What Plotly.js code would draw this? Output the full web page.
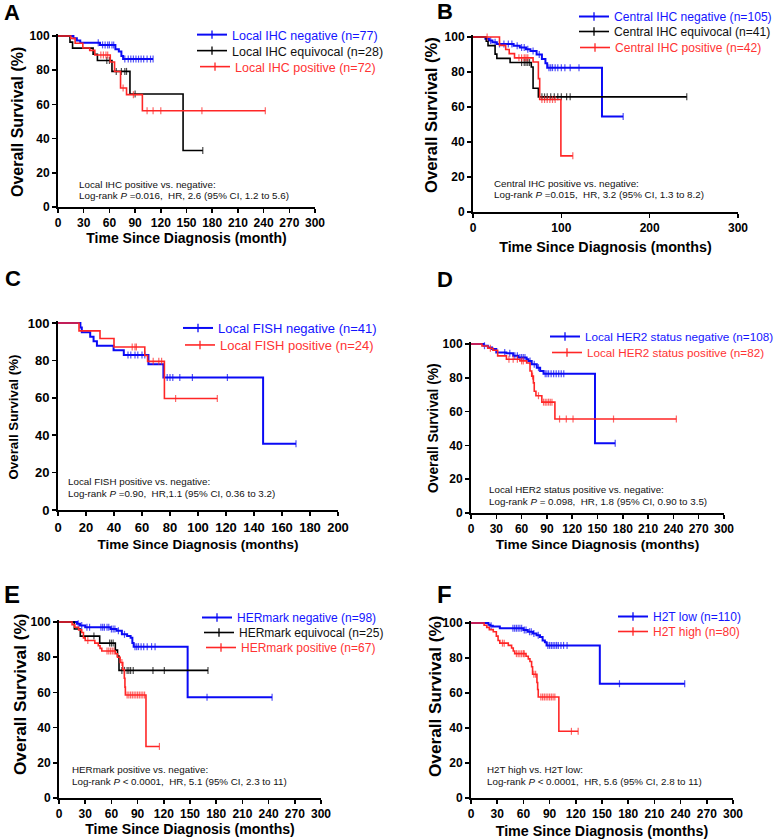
<!DOCTYPE html>
<html><head><meta charset="utf-8">
<script src="https://cdn.plot.ly/plotly-3.0.1.min.js"></script>
<style>body{margin:0;background:#fff}#chart{width:778px;height:840px}</style>
</head><body><div id="chart"></div>
<script>
// ---------- DATA (Kaplan-Meier step values) ----------
// Panel A: Local IHC
const A_neg_t = [0, 18, 22, 26, 49, 67, 71, 74, 76];
const A_neg_s = [100, 98.7, 97.4, 96.1, 94.8, 92.2, 90.9, 88.3, 86.5];
const A_neg_cens = [47, 52, 55, 58, 60, 63, 65, 78, 82, 85, 88, 91, 94, 97, 100, 104, 108, 111];
const A_eq_t = [0, 14, 17, 41, 46, 63, 84, 146];
const A_eq_s = [100, 96.4, 92.9, 89.3, 85.7, 79.3, 66.1, 33.0];
const A_eq_cens = [57, 60, 68, 74, 78, 80, 90, 169];
const A_pos_t = [0, 15, 20, 29, 37, 43, 61, 66, 73, 80, 98.5];
const A_pos_s = [100, 98.6, 95.8, 93.0, 91.6, 88.9, 84.8, 79.2, 69.6, 65.7, 56.3];
const A_pos_cens = [50, 53, 56, 58, 76, 88, 104, 111, 120, 168, 242];
const A_names = ['Local IHC negative (n=77)', 'Local IHC equivocal (n=28)', 'Local IHC positive (n=72)'];

// Panel B: Central IHC
const B_neg_t = [0, 14, 18, 22, 27, 46, 53, 60, 65, 72, 78, 82, 84, 146];
const B_neg_s = [100, 99, 98, 97, 96, 95, 94, 93, 92, 90, 87.5, 85, 82.5, 54.6];
const B_neg_cens = [20, 25, 30, 35, 40, 44, 50, 55, 58, 62, 68, 75, 86, 88, 90, 93, 96, 100, 104, 110, 120, 170];
const B_eq_t = [0, 15, 17, 25, 27, 42, 66, 68, 74];
const B_eq_s = [100, 97.6, 95.1, 90.2, 87.8, 85.4, 82.9, 70.7, 65.8];
const B_eq_cens = [55, 58, 60, 62, 64, 78, 81, 84, 88, 92, 96, 100, 106, 110, 242];
const B_pos_t = [0, 30, 37, 41, 47, 68, 74, 75.5, 99.5];
const B_pos_s = [100, 95.2, 92.9, 90.5, 88.1, 85.7, 76.2, 64.3, 32.1];
const B_pos_cens = [16, 52, 55, 58, 60, 62, 78, 81, 84, 87, 90, 93, 113];
const B_names = ['Central IHC negative (n=105)', 'Central IHC equivocal (n=41)', 'Central IHC positive (n=42)'];

// Panel C: Local FISH
const C_neg_t = [0, 16, 17, 23, 25.4, 27.8, 39.7, 47, 64.6, 75.3, 146.5];
const C_neg_s = [100, 97.6, 95.1, 92.7, 90.2, 87.8, 85.4, 82.9, 78.0, 70.8, 35.4];
const C_neg_cens = [50, 52, 55, 57, 60, 62, 78, 80, 82, 87, 96, 121, 170];
const C_pos_t = [0, 15, 30, 40, 62, 64, 76];
const C_pos_s = [100, 95.8, 91.7, 87.2, 82.6, 79.5, 59.6];
const C_pos_cens = [53, 55, 56, 68, 72, 74, 84, 113.8];
const C_names = ['Local FISH negative (n=41)', 'Local FISH positive (n=24)'];

// Panel D: Local HER2 status
const D_neg_t = [0, 15, 20, 25, 30, 42, 50, 56, 66, 68, 72, 78, 82, 86, 147];
const D_neg_s = [100, 99, 98, 97, 95, 94.5, 93, 92, 91, 90, 88, 86, 84, 82.4, 41.2];
const D_neg_cens = [16, 40, 46, 52, 55, 58, 60, 62, 64, 70, 75, 80, 88, 90, 92, 95, 98, 101, 104, 107, 110, 171];
const D_pos_t = [0, 13, 20, 26, 31.6, 42, 58, 66, 70, 72, 74, 75, 77, 84, 99.5];
const D_pos_s = [100, 98.8, 97.5, 96.3, 93, 91, 90, 88.8, 84, 81, 77, 72, 69.4, 65.6, 55.6];
const D_pos_cens = [23, 45, 50, 55, 60, 62, 73, 80, 86, 88, 90, 92, 94, 96, 105, 113, 121, 169, 243.5];
const D_names = ['Local HER2 status negative (n=108)', 'Local HER2 status positive (n=82)'];

// Panel E: HERmark
const E_neg_t = [0, 20.6, 24, 30, 59, 66, 72, 78, 82, 84, 85.5, 147.3];
const E_neg_s = [100, 99, 98, 97, 96, 95, 93, 92, 91, 88, 86, 57.3];
const E_neg_cens = [22, 26, 32, 35, 48, 50, 52, 55, 57, 60, 62, 64, 68, 75, 87, 89, 91, 94, 97, 101, 106, 110, 169.5, 244];
const E_eq_t = [0, 17.6, 24.4, 46.6, 64.5, 67, 68.7];
const E_eq_s = [100, 96, 92, 88, 84, 80.6, 72.5];
const E_eq_cens = [40, 58, 60, 62, 72, 75, 78, 80, 82, 85, 107.6, 120.6, 170.6];
const E_pos_t = [0, 15, 18, 22.5, 26, 28, 30, 41, 45, 47, 49, 64.5, 67, 70, 73, 74.8, 75.5, 76, 99.6];
const E_pos_s = [100, 98.5, 97, 95.5, 94, 91, 89.5, 88, 86.5, 85, 83.5, 82, 80, 77, 73, 68, 63, 58.5, 29.3];
const E_pos_cens = [33, 55, 57, 59, 61, 63, 72, 78, 80, 82, 84, 86, 88, 90, 92, 94, 96, 98, 115];
const E_names = ['HERmark negative (n=98)', 'HERmark equivocal (n=25)', 'HERmark positive (n=67)'];

// Panel F: H2T
const F_neg_t = [0, 20, 22, 25, 33, 60, 65, 71, 75, 79, 82, 84.6, 86.5, 147.5];
const F_neg_s = [100, 99, 98.5, 98, 97, 96, 95, 94, 93, 92, 90, 89, 87.2, 65.3];
const F_neg_cens = [23, 48, 50, 52, 54, 56, 58, 61, 63, 67, 69, 72, 77, 88, 90, 92, 94, 96, 98, 100, 103, 106, 110, 170, 244.7];
const F_pos_t = [0, 15, 18, 21, 25.5, 29, 31, 33, 42.7, 46.5, 48.4, 50, 63, 65.6, 67.5, 69.4, 70.5, 75.5, 76.3, 77, 100.6];
const F_pos_s = [100, 98.7, 97.5, 96.2, 95, 92.5, 90, 88.5, 87.2, 85.7, 84, 82.5, 81, 79.5, 78, 75, 70.7, 66, 62, 57.7, 38.1];
const F_pos_cens = [36, 38, 52, 54, 56, 58, 60, 61, 72, 74, 80, 82, 84, 86, 88, 90, 92, 94, 96, 115, 122.7];
const F_names = ['H2T low (n=110)', 'H2T high (n=80)'];

// Text
const panelLetters = ['A', 'B', 'C', 'D', 'E', 'F'];
const xTitles = ['Time Since Diagnosis (month)', 'Time Since Diagnosis (months)', 'Time Since Diagnosis (months)',
                 'Time Since Diagnosis (months)', 'Time Since Diagnosis (months)', 'Time Since Diagnosis (months)'];
const yTitle = 'Overall Survival (%)';
const statLine1 = ['Local IHC positive vs. negative:', 'Central IHC positive vs. negative:', 'Local FISH positive vs. negative:',
                   'Local HER2 status positive vs. negative:', 'HERmark positive vs. negative:', 'H2T high vs. H2T low:'];
const S = '\u00a0';
const statLine2 = ['Log-rank <i>P</i> =0.016,' + S + S + 'HR, 2.6 (95% CI, 1.2 to 5.6)',
                   'Log-rank <i>P</i> =0.015,' + S + S + 'HR, 3.2 (95% CI, 1.3 to 8.2)',
                   'Log-rank <i>P</i> =0.90,' + S + S + 'HR,1.1 (95% CI, 0.36 to 3.2)',
                   'Log-rank <i>P</i> = 0.098,' + S + S + 'HR, 1.8 (95% CI, 0.90 to 3.5)',
                   'Log-rank <i>P</i> &lt; 0.0001,' + S + S + 'HR, 5.1 (95% CI, 2.3 to 11)',
                   'Log-rank <i>P</i> &lt; 0.0001,' + S + S + 'HR, 5.6 (95% CI, 2.8 to 11)'];

// ---------- STYLE / LAYOUT ----------
const FONT = 'Arial, "Liberation Sans", Helvetica, sans-serif';
const W = 778, H = 840;
const BLUE = '#0a0af5', RED = '#ff2626', BLACK = '#000000';
const TXT = {blue: '#1414ff', black: '#111111', red: '#ff3333'};
const px = v => v / W;
const py = v => 1 - v / H;

const panels = [
  {xpx: [58, 315], ypx: [36, 207], xmax: 300, dtick: 30, tfs: 12, ytfs: 16, xtfs: 14, xstand: 4,
   ytx: 17.5, yty: 122.5, lx: 2, ly: 12.5, lfs: 22, sx: 77, sy1: 184, sy2: 195,
   legTx: [232, 232, 235], legTy: [35, 51, 67], legfs: 12.5,
   curves: [[A_neg_t, A_neg_s, A_neg_cens, 'blue'], [A_eq_t, A_eq_s, A_eq_cens, 'black'], [A_pos_t, A_pos_s, A_pos_cens, 'red']], names: A_names},
  {xpx: [473, 738], ypx: [37, 212], xmax: 300, dtick: 100, tfs: 12, ytfs: 16.6, xtfs: 14.3, xstand: 8,
   ytx: 432, yty: 115, lx: 435, ly: 11.5, lfs: 22, sx: 492, sy1: 183, sy2: 194,
   legTx: [614, 614, 615], legTy: [17, 32, 48], legfs: 12.1,
   curves: [[B_neg_t, B_neg_s, B_neg_cens, 'blue'], [B_eq_t, B_eq_s, B_eq_cens, 'black'], [B_pos_t, B_pos_s, B_pos_cens, 'red']], names: B_names},
  {xpx: [58, 338], ypx: [323, 510], xmax: 200, dtick: 20, tfs: 13, ytfs: 13.3, xtfs: 13.5, xstand: 6,
   ytx: 13, yty: 417.5, lx: 3, ly: 279, lfs: 22, sx: 66, sy1: 482, sy2: 493,
   legTx: [218, 220], legTy: [328, 345], legfs: 13,
   curves: [[C_neg_t, C_neg_s, C_neg_cens, 'blue'], [C_pos_t, C_pos_s, C_pos_cens, 'red']], names: C_names},
  {xpx: [471, 724], ypx: [344, 513], xmax: 300, dtick: 30, tfs: 12, ytfs: 13.8, xtfs: 13.7, xstand: 4,
   ytx: 433, yty: 428, lx: 435, ly: 280, lfs: 22, sx: 487, sy1: 489, sy2: 501,
   legTx: [585, 587], legTy: [337, 353], legfs: 11.7,
   curves: [[D_neg_t, D_neg_s, D_neg_cens, 'blue'], [D_pos_t, D_pos_s, D_pos_cens, 'red']], names: D_names},
  {xpx: [59, 321], ypx: [622, 798], xmax: 300, dtick: 30, tfs: 12, ytfs: 17.2, xtfs: 14.1, xstand: 4,
   ytx: 20, yty: 695, lx: 2, ly: 594, lfs: 24, sx: 70, sy1: 769, sy2: 781,
   legTx: [237, 239, 241], legTy: [618, 633, 648], legfs: 12,
   curves: [[E_neg_t, E_neg_s, E_neg_cens, 'blue'], [E_eq_t, E_eq_s, E_eq_cens, 'black'], [E_pos_t, E_pos_s, E_pos_cens, 'red']], names: E_names},
  {xpx: [471, 733], ypx: [623, 798], xmax: 300, dtick: 30, tfs: 12, ytfs: 17.2, xtfs: 14.3, xstand: 6,
   ytx: 435, yty: 697, lx: 435, ly: 594, lfs: 24, sx: 485, sy1: 769, sy2: 781,
   legTx: [653, 653], legTy: [617, 632], legfs: 12,
   curves: [[F_neg_t, F_neg_s, F_neg_cens, 'blue'], [F_pos_t, F_pos_s, F_pos_cens, 'red']], names: F_names}
];

const COLORS = {blue: BLUE, black: BLACK, red: RED};
const WIDTHS = {blue: 2, black: 1.6, red: 1.6};
const YMAX = 101;
const CENS_SIZE = 5;
const LEG_TEXT_OFFSET = 40;

function survivalAt(t, s, c) {
  let v = s[0];
  for (let i = 0; i < t.length; i++) if (t[i] <= c) v = s[i];
  return v;
}

const traces = [];
const layout = {
  width: W, height: H, margin: {l: 0, r: 0, t: 0, b: 0, autoexpand: false},
  paper_bgcolor: '#fff', plot_bgcolor: 'rgba(0,0,0,0)',
  font: {family: FONT, color: '#000'},
  showlegend: true, annotations: []
};

let legCount = 0;
panels.forEach((p, i) => {
  const k = i === 0 ? '' : String(i + 1);
  const xa = 'x' + k, ya = 'y' + k;
  const plotH = p.ypx[1] - p.ypx[0];
  const topPx = p.ypx[0] - plotH * (YMAX - 100) / 100;
  layout['xaxis' + k] = {
    domain: [px(p.xpx[0]), px(p.xpx[1])], anchor: ya, range: [0, p.xmax],
    tick0: 0, dtick: p.dtick, ticks: 'outside', ticklen: 4, tickwidth: 1.5, tickcolor: '#000',
    showline: true, linecolor: '#000', linewidth: 2, showgrid: false, zeroline: false,
    tickfont: {family: FONT, size: p.tfs, color: '#000', weight: 'bold'},
    title: {text: xTitles[i], font: {family: FONT, size: p.xtfs, color: '#000', weight: 'bold'}, standoff: p.xstand},
    fixedrange: true, automargin: false
  };
  layout['yaxis' + k] = {
    domain: [py(p.ypx[1]), py(topPx)], anchor: xa, range: [0, YMAX],
    tick0: 0, dtick: 20, ticks: 'outside', ticklen: 4, tickwidth: 1.5, tickcolor: '#000',
    showline: true, linecolor: '#000', linewidth: 2, showgrid: false, zeroline: false,
    tickfont: {family: FONT, size: p.tfs, color: '#000', weight: 'bold'},
    fixedrange: true, automargin: false
  };

  p.curves.forEach((c, j) => {
    const [t, s, cens, col] = c;
    const pts = t.map((ti, m) => ({x: ti, y: s[m], c: false}));
    cens.forEach(ct => pts.push({x: ct, y: survivalAt(t, s, ct), c: true}));
    pts.sort((a, b) => a.x - b.x || (a.c - b.c));
    traces.push({
      type: 'scatter', mode: 'lines+markers', xaxis: xa, yaxis: ya, showlegend: false, hoverinfo: 'skip',
      x: pts.map(q => q.x), y: pts.map(q => q.y),
      line: {shape: 'hv', color: COLORS[col], width: WIDTHS[col]},
      marker: {symbol: 'line-ns', size: pts.map(q => q.c ? CENS_SIZE : 0), color: COLORS[col],
               line: {color: COLORS[col], width: 1.2}},
      cliponaxis: false
    });
    // legend entry: one small legend per item so spacing matches the figure
    legCount += 1;
    const legId = legCount === 1 ? 'legend' : 'legend' + legCount;
    layout[legId] = {
      x: px(p.legTx[j] - LEG_TEXT_OFFSET), y: py(p.legTy[j] - 15), xanchor: 'left', yanchor: 'top',
      bgcolor: 'rgba(0,0,0,0)', borderwidth: 0,
      font: {family: FONT, size: p.legfs, color: '#000'}, itemwidth: 30
    };
    traces.push({
      type: 'scatter', mode: 'lines+markers', xaxis: xa, yaxis: ya, legend: legId, showlegend: true,
      x: [null], y: [null],
      name: '<span style="color:' + TXT[col] + '">' + p.names[j] + '</span>',
      line: {color: COLORS[col], width: WIDTHS[col]},
      marker: {symbol: 'line-ns', size: 6, color: COLORS[col], line: {color: COLORS[col], width: 1.3}}
    });
  });

  // y-axis title (rotated text, placed like the figure)
  layout.annotations.push({text: yTitle, xref: 'paper', yref: 'paper', x: px(p.ytx), y: py(p.yty),
    xanchor: 'center', yanchor: 'middle', textangle: -90, showarrow: false,
    font: {family: FONT, size: p.ytfs, color: '#000', weight: 'bold'}});
  // panel letter
  layout.annotations.push({text: panelLetters[i], xref: 'paper', yref: 'paper', x: px(p.lx), y: py(p.ly),
    xanchor: 'left', yanchor: 'middle', showarrow: false,
    font: {family: FONT, size: p.lfs, color: '#000', weight: 'bold'}});
  // stats text
  layout.annotations.push({text: statLine1[i], xref: 'paper', yref: 'paper', x: px(p.sx), y: py(p.sy1),
    xanchor: 'left', yanchor: 'middle', showarrow: false, font: {family: FONT, size: 9.8, color: '#111'}});
  layout.annotations.push({text: statLine2[i], xref: 'paper', yref: 'paper', x: px(p.sx), y: py(p.sy2),
    xanchor: 'left', yanchor: 'middle', showarrow: false, font: {family: FONT, size: 9.8, color: '#111'}});
});

Plotly.newPlot('chart', traces, layout, {staticPlot: true, displayModeBar: false});
</script>
</body></html>
